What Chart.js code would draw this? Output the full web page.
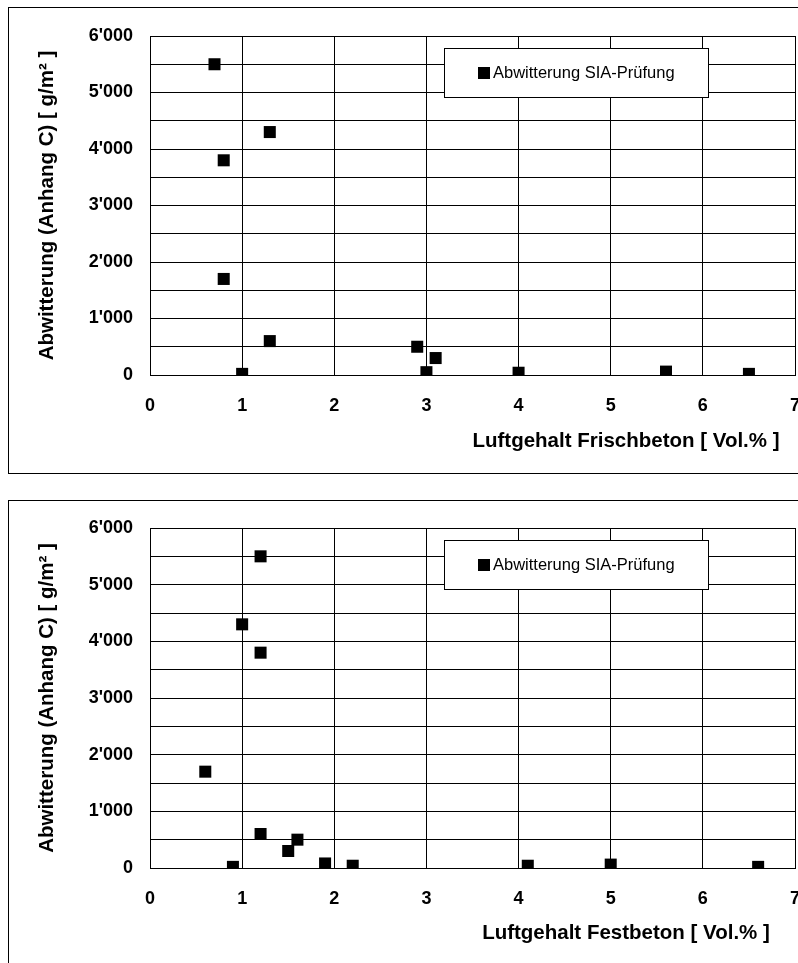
<!DOCTYPE html>
<html><head><meta charset="utf-8">
<script src="https://cdn.jsdelivr.net/npm/chart.js@4.4.1/dist/chart.umd.min.js"></script>
<style>
html,body{margin:0;padding:0;background:#fff;width:798px;height:963px;overflow:hidden;}
.frame{position:absolute;border:1px solid #000;box-sizing:border-box;}
.wrap{position:absolute;left:0;width:812px;}
canvas{display:block;}
</style></head><body>
<div class="frame" style="left:8px;top:7px;width:800px;height:467px;"></div>
<div class="frame" style="left:8px;top:500px;width:800px;height:480px;"></div>
<div class="wrap" style="top:0;height:490px"><canvas id="c1" width="812" height="490"></canvas></div>
<div class="wrap" style="top:490px;height:473px"><canvas id="c2" width="812" height="473"></canvas></div>
<script>
// ---- data ----
const seriesLabel = 'Abwitterung SIA-Prüfung';
const yTitle = 'Abwitterung (Anhang C) [ g/m² ]';
const xTitleTop = 'Luftgehalt Frischbeton [ Vol.% ]';
const xTitleBottom = 'Luftgehalt Festbeton [ Vol.% ]';
const xMin = 0, xMax = 7, xStep = 1;
const yMin = 0, yMax = 6000, yStep = 500, yLabelStep = 1000;

// Top chart: Luftgehalt Frischbeton
const frischX = [0.7, 1.3, 0.8, 0.8, 1.3, 1.0, 2.9, 3.0, 3.1, 4.0, 5.6, 6.5];
const frischY = [5500, 4300, 3800, 1700, 600, 20, 500, 50, 300, 40, 60, 20];
// Bottom chart: Luftgehalt Festbeton
const festX = [1.2, 1.0, 1.2, 0.6, 1.2, 1.5, 1.6, 0.9, 1.9, 2.2, 4.1, 5.0, 6.6];
const festY = [5500, 4300, 3800, 1700, 600, 300, 500, 20, 80, 40, 40, 60, 20];

function fmtThousands(v) {
  if (v % yLabelStep !== 0) return '';
  if (v === 0) return '0';
  const s = String(v);
  return s.slice(0, s.length - 3) + "'" + s.slice(-3);
}

const FONT = '"Liberation Sans", Arial, Helvetica, sans-serif';

const overlay = {
  id: 'overlay',
  afterDraw(chart, args, opts) {
    const ctx = chart.ctx, ca = chart.chartArea;
    ctx.save();
    // x axis title
    ctx.font = 'bold 20.5px ' + FONT;
    ctx.fillStyle = '#000';
    ctx.textAlign = 'center';
    ctx.textBaseline = 'middle';
    ctx.fillText(opts.xTitle, opts.xTitleX, opts.xTitleY);
    // legend box
    const lx = ca.left + opts.legendDX, ly = ca.top + opts.legendDY;
    const lw = opts.legendW, lh = opts.legendH;
    ctx.fillStyle = '#fff';
    ctx.fillRect(lx, ly, lw, lh);
    ctx.strokeStyle = '#000';
    ctx.lineWidth = 1;
    ctx.strokeRect(lx + 0.5, ly + 0.5, lw, lh);
    const ds = chart.data.datasets[0];
    const cy = ly + lh / 2 + 0.5;
    ctx.fillStyle = ds.backgroundColor;
    ctx.fillRect(lx + 34, Math.round(cy - 6), 12, 12);
    ctx.fillStyle = '#000';
    ctx.font = '16.5px ' + FONT;
    ctx.textAlign = 'left';
    ctx.fillText(ds.label, lx + 49, cy);
    ctx.restore();
  }
};

function makeChart(id, xs, ys, xTitle, padTop, xScaleH, xTitleY) {
  const pts = xs.map((x, i) => ({x: x, y: ys[i]}));
  return new Chart(document.getElementById(id), {
    type: 'scatter',
    data: {datasets: [{
      label: seriesLabel,
      data: pts,
      backgroundColor: '#000',
      borderColor: '#000',
      borderWidth: 0,
      pointStyle: 'rect',
      pointRadius: 8.5,
      pointHoverRadius: 8.5
    }]},
    options: {
      responsive: false,
      animation: false,
      events: [],
      layout: {padding: {left: 0, top: padTop, right: 17, bottom: 0}},
      plugins: {
        legend: {display: false},
        tooltip: {enabled: false},
        overlay: {xTitle: xTitle, xTitleX: 626, xTitleY: xTitleY,
                  legendDX: 294, legendDY: 12, legendW: 264, legendH: 49}
      },
      scales: {
        x: {
          type: 'linear', min: xMin, max: xMax,
          afterFit(s) { s.height = xScaleH; s.paddingLeft = 0; s.paddingRight = 0; },
          ticks: {stepSize: xStep, color: '#000', padding: 20,
                  font: {family: FONT, size: 18, weight: 'bold'}},
          grid: {color: '#000', lineWidth: 1, drawTicks: false},
          border: {display: true, color: '#000', width: 1}
        },
        y: {
          type: 'linear', min: yMin, max: yMax,
          afterFit(s) { s.width = 150; },
          ticks: {stepSize: yStep, autoSkip: false, color: '#000', padding: 17,
                  font: {family: FONT, size: 18, weight: 'bold'},
                  callback: (v) => fmtThousands(v)},
          grid: {color: '#000', lineWidth: 1, drawTicks: false},
          border: {display: true, color: '#000', width: 1},
          title: {display: true, text: yTitle, color: '#000',
                  font: {family: FONT, size: 20.5, weight: 'bold'},
                  padding: {top: 35, bottom: 0}}
        }
      }
    },
    plugins: [overlay]
  });
}

makeChart('c1', frischX, frischY, xTitleTop, 36, 115, 441);
makeChart('c2', festX, festY, xTitleBottom, 38, 95, 443);
</script>
</body></html>
